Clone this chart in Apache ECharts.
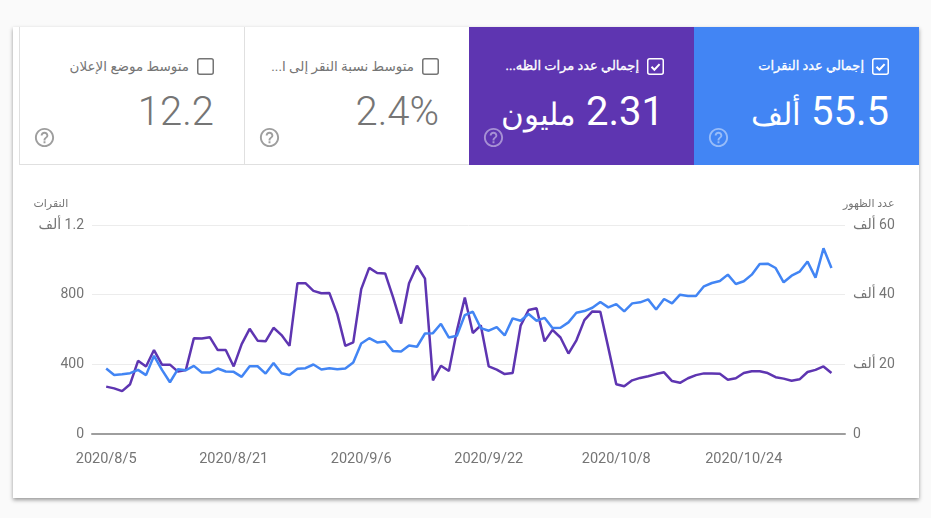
<!DOCTYPE html>
<html>
<head>
<meta charset="utf-8">
<script src="https://cdn.jsdelivr.net/npm/echarts@6/dist/echarts.min.js"></script>
<style>
html, body { margin: 0; padding: 0; width: 931px; height: 518px; background: #fafafa; overflow: hidden; font-family: Roboto, "DejaVu Sans", sans-serif; }
#card { position: absolute; left: 13px; top: 27px; width: 906px; height: 471px; background: #fff; box-shadow: 0 2px 4px rgba(0,0,0,.4); }
#chart { position: absolute; left: 0; top: 0; width: 931px; height: 518px; }
.tile { position: absolute; top: 27px; width: 225px; height: 138px; box-sizing: border-box; direction: rtl; color: #757575; }
.tile.off { border: 1px solid #e0e0e0; border-top: 0; border-right-width: 0; background: #fff; }
.tile.on { color: #fff; }
.box { position: absolute; right: 30px; top: 31px; width: 17px; height: 17px; box-sizing: border-box; }
.box svg { display: block; }
.lab { position: absolute; right: 55px; top: 29px; font-size: 13.5px; line-height: 20px; white-space: nowrap; }
.tile.on .lab { font-size: 13px; -webkit-text-stroke: .3px #fff; }
.val { position: absolute; right: 30px; top: 61px; font-size: 40px; line-height: 48px; white-space: nowrap; }
.val span { font-size: 31px; font-weight: 300; }
.tile.off .val { font-weight: 300; }
.q { position: absolute; left: 13px; top: 99px; width: 23px; height: 23px; }
</style>
</head>
<body>
<div id="card"></div>
<div id="chart"></div>
<div id="tiles"></div>
<script>
// tiles, left to right
var tileLabels = ['متوسط موضع الإعلان', 'متوسط نسبة النقر إلى ا...', 'إجمالي عدد مرات الظه...', 'إجمالي عدد النقرات'];
var tileValues = ['12.2', '2.4%', '2.31', '55.5'];
var tileUnits = ['', '', 'مليون', 'ألف'];
var tileColors = ['', '', '#5e35b1', '#4285f4'];
var tileLefts = [19, 244, 469, 694];

var clicksName = 'النقرات';
var impressionsName = 'عدد الظهور';
var clicksTicks = ['0', '400', '800', '\u200F1.2 ألف'];
var impressionsTicks = ['0', '\u200F20 ألف', '\u200F40 ألف', '\u200F60 ألف'];
var dateTicks = ['2020/8/5', '2020/8/21', '2020/9/6', '2020/9/22', '2020/10/8', '2020/10/24'];

var dates = [
	'2020/8/5','2020/8/6','2020/8/7','2020/8/8','2020/8/9','2020/8/10','2020/8/11','2020/8/12','2020/8/13','2020/8/14',
	'2020/8/15','2020/8/16','2020/8/17','2020/8/18','2020/8/19','2020/8/20','2020/8/21','2020/8/22','2020/8/23','2020/8/24',
	'2020/8/25','2020/8/26','2020/8/27','2020/8/28','2020/8/29','2020/8/30','2020/8/31','2020/9/1','2020/9/2','2020/9/3',
	'2020/9/4','2020/9/5','2020/9/6','2020/9/7','2020/9/8','2020/9/9','2020/9/10','2020/9/11','2020/9/12','2020/9/13',
	'2020/9/14','2020/9/15','2020/9/16','2020/9/17','2020/9/18','2020/9/19','2020/9/20','2020/9/21','2020/9/22','2020/9/23',
	'2020/9/24','2020/9/25','2020/9/26','2020/9/27','2020/9/28','2020/9/29','2020/9/30','2020/10/1','2020/10/2','2020/10/3',
	'2020/10/4','2020/10/5','2020/10/6','2020/10/7','2020/10/8','2020/10/9','2020/10/10','2020/10/11','2020/10/12','2020/10/13',
	'2020/10/14','2020/10/15','2020/10/16','2020/10/17','2020/10/18','2020/10/19','2020/10/20','2020/10/21','2020/10/22','2020/10/23',
	'2020/10/24','2020/10/25','2020/10/26','2020/10/27','2020/10/28','2020/10/29','2020/10/30','2020/10/31','2020/11/1','2020/11/2',
	'2020/11/3','2020/11/4'
];
var clicks = [
	376,339,343,349,368,338,449,368,297,372,
	366,391,353,353,376,359,357,328,389,389,
	347,407,349,339,374,378,399,370,378,372,
	376,410,520,550,526,531,476,474,508,501,
	577,579,633,554,564,683,702,608,593,614,
	566,664,650,689,650,667,608,610,641,696,
	706,725,758,727,746,704,750,756,773,715,
	775,750,800,792,792,848,867,878,915,861,
	877,915,976,978,953,871,909,932,990,898,
	1066,953
];
// in thousands
var impressions = [
	13.6,13.1,12.3,14.3,21.0,19.4,24.1,19.9,19.9,17.9,
	18.4,27.5,27.4,27.8,24.1,24.1,19.4,25.8,30.2,26.8,
	26.6,30.5,28.4,25.3,43.3,43.3,41.1,40.4,40.5,34.4,
	25.3,26.3,41.6,47.7,46.2,46.1,39.2,31.7,43.3,48.3,
	44.6,15.4,19.6,18.1,29.6,39.2,29.0,31.2,19.4,18.5,
	17.2,17.5,31.1,35.6,36.1,26.6,29.9,27.7,23.1,26.9,
	32.7,35.2,35.1,24.8,14.3,13.7,15.4,16.1,16.6,17.2,
	17.7,15.2,14.7,16.0,16.9,17.4,17.4,17.3,15.6,16.0,
	17.5,18.0,18.0,17.5,16.3,15.9,15.3,15.7,17.8,18.4,
	19.4,17.5
];

// tile markup
var helpPath = 'M11 18h2v-2h-2v2zm1-16C6.48 2 2 6.48 2 12s4.48 10 10 10 10-4.48 10-10S17.52 2 12 2zm0 18c-4.41 0-8-3.59-8-8s3.59-8 8-8 8 3.59 8 8-3.59 8-8 8zm0-14c-2.21 0-4 1.79-4 4h2c0-1.1.9-2 2-2s2 .9 2 2c0 2-3 1.75-3 5h2c0-2.25 3-2.5 3-5 0-2.21-1.79-4-4-4z';
var html = '';
for (var i = 0; i < tileLabels.length; i++) {
	var on = !!tileColors[i];
	var stroke = on ? '#fff' : '#757575';
	var check = on ? '<path d="M4.5 8.8l2.9 2.9 5.2-5.6" fill="none" stroke="#fff" stroke-width="2"/>' : '';
	html += '<div class="tile ' + (on ? 'on' : 'off') + '" style="left:' + tileLefts[i] + 'px;' + (on ? 'background:' + tileColors[i] : '') + '">'
		+ '<div class="box"><svg width="17" height="17"><rect x=".75" y=".75" width="15.5" height="15.5" rx="2" fill="none" stroke="' + stroke + '" stroke-width="1.5"/>' + check + '</svg></div>'
		+ '<div class="lab">' + tileLabels[i] + '</div>'
		+ '<div class="val">' + tileValues[i] + (tileUnits[i] ? ' <span>' + tileUnits[i] + '</span>' : '') + '</div>'
		+ '<svg class="q" viewBox="0 0 24 24"><path d="' + helpPath + '" fill="' + (on ? 'rgba(255,255,255,.45)' : '#9e9e9e') + '"/></svg>'
		+ '</div>';
}
document.getElementById('tiles').innerHTML = html;

// x is the day index into dates
function pairs(values) {
	return values.map(function (v, idx) { return [idx, v]; });
}

var myChart = echarts.init(document.getElementById('chart'));
var labelStyle = { color: '#757575', fontSize: 14, fontFamily: 'Roboto, "DejaVu Sans", sans-serif' };
var nameStyle = { color: '#757575', fontSize: 11, fontFamily: 'Roboto, "DejaVu Sans", sans-serif' };

var option = {
	animation: false,
	grid: { left: 92, right: 86, top: 225, bottom: 84 },
	xAxis: {
		type: 'value',
		min: -1.78,
		max: 92.7,
		axisLine: { show: true, onZero: false, lineStyle: { color: '#9e9e9e', width: 2 } },
		axisTick: { show: false },
		splitLine: { show: false },
		axisLabel: Object.assign({}, labelStyle, {
			margin: 18,
			fontSize: 14.5,
			hideOverlap: false,
			showMinLabel: true,
			customValues: dateTicks.map(function (d) { return dates.indexOf(d); }),
			formatter: function (v) { return dates[v]; }
		})
	},
	yAxis: [
		{
			type: 'value', min: 0, max: 1200, interval: 400,
			name: clicksName, nameLocation: 'end', nameGap: 15,
			nameTextStyle: Object.assign({ align: 'right', padding: [0, 38, 0, 0] }, nameStyle),
			axisLine: { show: false }, axisTick: { show: false },
			splitLine: { show: true, lineStyle: { color: '#ececec', width: 1 } },
			axisLabel: Object.assign({}, labelStyle, {
				margin: 8,
				formatter: function (v) { return clicksTicks[v / 400]; }
			})
		},
		{
			type: 'value', min: 0, max: 60, interval: 20, position: 'right',
			name: impressionsName, nameLocation: 'end', nameGap: 15,
			nameTextStyle: Object.assign({ align: 'left', padding: [0, 0, 0, -2] }, nameStyle),
			axisLine: { show: false }, axisTick: { show: false },
			splitLine: { show: false },
			axisLabel: Object.assign({}, labelStyle, {
				margin: 8,
				formatter: function (v) { return impressionsTicks[v / 20]; }
			})
		}
	],
	series: [
		{
			name: impressionsName, type: 'line', yAxisIndex: 1, showSymbol: false,
			lineStyle: { color: '#5e35b1', width: 2.5 }, itemStyle: { color: '#5e35b1' },
			data: pairs(impressions)
		},
		{
			name: clicksName, type: 'line', yAxisIndex: 0, showSymbol: false,
			lineStyle: { color: '#4285f4', width: 2.5 }, itemStyle: { color: '#4285f4' },
			data: pairs(clicks)
		}
	]
};
myChart.setOption(option);
</script>
</body>
</html>
